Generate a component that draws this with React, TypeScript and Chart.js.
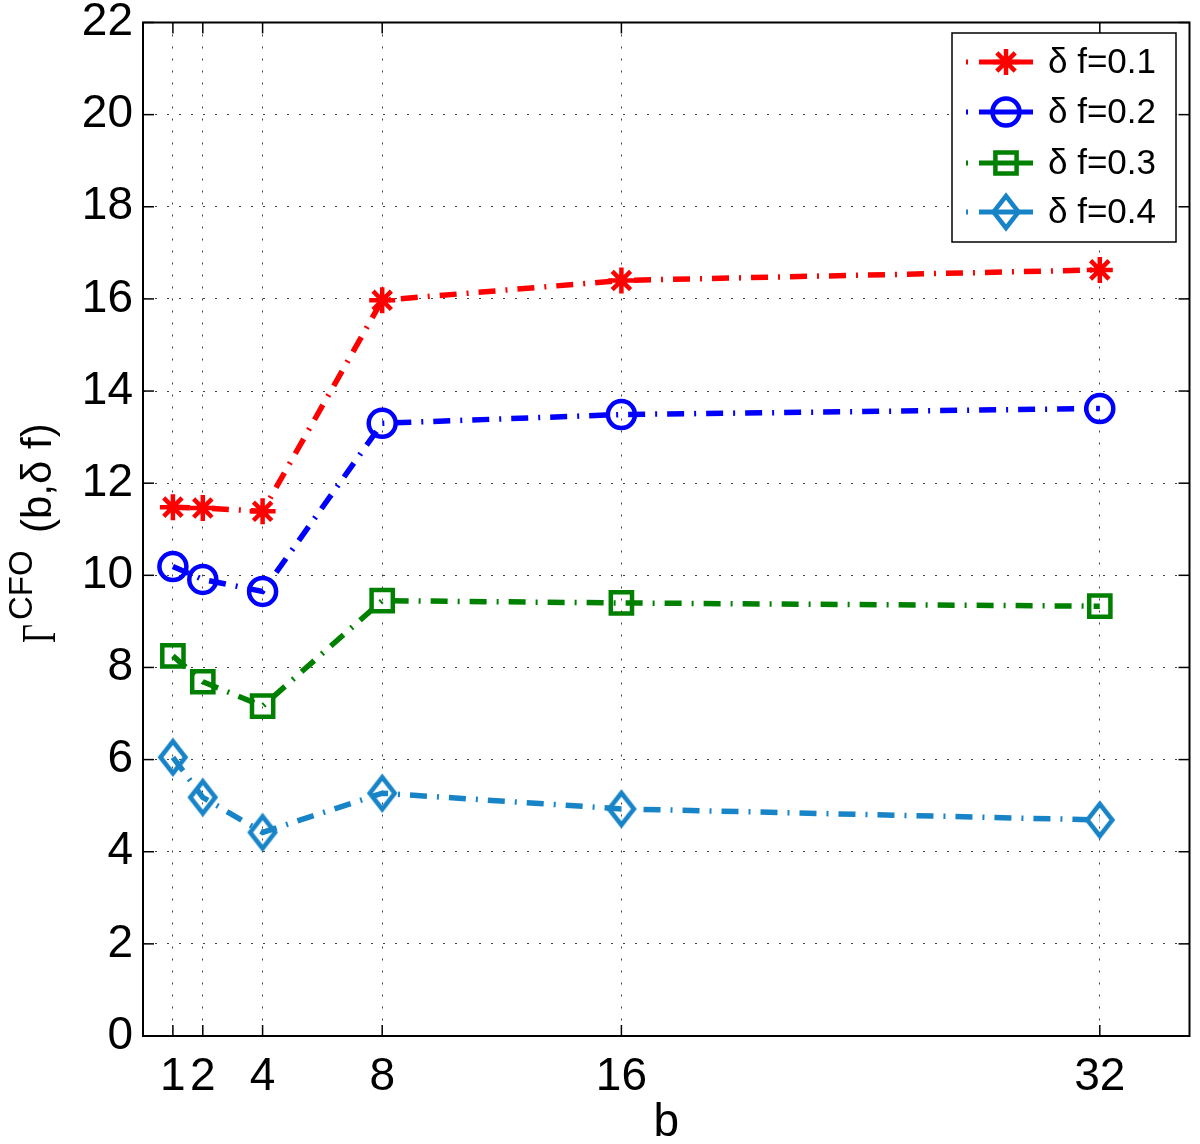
import React, { useEffect, useRef } from "react";
import { Chart, registerables } from "chart.js";

Chart.register(...registerables);

// ---- data ----
const bValues = [1, 2, 4, 8, 16, 32];
const df01 = [11.48, 11.46, 11.39, 15.97, 16.4, 16.63];
const df02 = [10.19, 9.91, 9.65, 13.3, 13.49, 13.62];
const df03 = [8.25, 7.69, 7.16, 9.45, 9.4, 9.33];
const df04 = [6.05, 5.18, 4.42, 5.27, 4.93, 4.69];
const seriesLabels = ["δ f=0.1", "δ f=0.2", "δ f=0.3", "δ f=0.4"];
const xTickValues = bValues;
const yMax = 22;
const yStep = 2;
const xMax = 35;

const FONT = '"Liberation Sans", Arial, Helvetica, sans-serif';
const SERIF = '"Liberation Serif", "Times New Roman", serif';
const COLORS = ["#ff0000", "#0000ff", "#008000", "#1884c8"];
const DASH = [17, 10, 2, 10];
const CANVAS_W = 1212;

function makeDiamond(color: string) {
  const c = document.createElement("canvas");
  c.width = 36;
  c.height = 48;
  const ctx = c.getContext("2d")!;
  ctx.strokeStyle = color;
  ctx.lineWidth = 4.5;
  ctx.beginPath();
  ctx.moveTo(18, 8);
  ctx.lineTo(30.5, 24);
  ctx.lineTo(18, 40);
  ctx.lineTo(5.5, 24);
  ctx.closePath();
  ctx.stroke();
  return c;
}

function drawMarker(ctx: CanvasRenderingContext2D, style: any, x: number, y: number, color: string) {
  ctx.save();
  ctx.strokeStyle = color;
  ctx.lineWidth = 4.5;
  ctx.setLineDash([]);
  ctx.beginPath();
  if (style === "star") {
    const r = 13;
    for (let k = 0; k < 4; k++) {
      const ang = (k * Math.PI) / 4;
      ctx.moveTo(x - r * Math.cos(ang), y - r * Math.sin(ang));
      ctx.lineTo(x + r * Math.cos(ang), y + r * Math.sin(ang));
    }
    ctx.stroke();
  } else if (style === "circle") {
    ctx.arc(x, y, 13.5, 0, Math.PI * 2);
    ctx.stroke();
  } else if (style === "rect") {
    const s = 10.6;
    ctx.rect(x - s, y - s, 2 * s, 2 * s);
    ctx.stroke();
  } else {
    ctx.drawImage(style, x - style.width / 2, y - style.height / 2);
  }
  ctx.restore();
}

const overlayPlugin = {
  id: "overlay",
  afterDraw(chart: any) {
    const { ctx, chartArea: a, scales } = chart;
    ctx.save();
    const line = (x1: number, y1: number, x2: number, y2: number) => {
      ctx.beginPath();
      ctx.moveTo(x1, y1);
      ctx.lineTo(x2, y2);
      ctx.stroke();
    };
    // inner ticks
    ctx.strokeStyle = "#000";
    ctx.lineWidth = 1.5;
    ctx.setLineDash([]);
    const tl = 11;
    scales.x.ticks.forEach((t: any) => {
      const px = scales.x.getPixelForValue(t.value);
      line(px, a.bottom, px, a.bottom - tl);
      line(px, a.top, px, a.top + tl);
    });
    scales.y.ticks.forEach((t: any) => {
      const py = scales.y.getPixelForValue(t.value);
      line(a.left, py, a.left + tl, py);
      line(a.right, py, a.right - tl, py);
    });
    // frame
    ctx.lineWidth = 2;
    ctx.strokeRect(a.left, a.top, a.right - a.left, a.bottom - a.top);

    // legend
    const lx = 952, ly = 33, lw = 224, lh = 209;
    ctx.fillStyle = "#fff";
    ctx.fillRect(lx, ly, lw, lh);
    ctx.lineWidth = 1.5;
    ctx.strokeStyle = "#000";
    ctx.strokeRect(lx, ly, lw, lh);
    const rows = [62, 112, 163, 212];
    chart.data.datasets.forEach((ds: any, i: number) => {
      const y = rows[i];
      ctx.strokeStyle = ds.borderColor;
      ctx.lineWidth = 5;
      ctx.lineCap = "butt";
      line(966, y, 968, y);
      line(979, y, 1033, y);
      drawMarker(ctx, ds.pointStyle, 1006, y, ds.borderColor);
      ctx.fillStyle = "#000";
      ctx.font = `35px ${FONT}`;
      ctx.textAlign = "left";
      ctx.textBaseline = "middle";
      ctx.fillText(ds.label, 1048, y + 1);
    });

    // y-axis title
    ctx.save();
    ctx.translate(55, 643);
    ctx.rotate(-Math.PI / 2);
    ctx.fillStyle = "#000";
    ctx.textAlign = "left";
    ctx.textBaseline = "alphabetic";
    ctx.save();
    ctx.scale(0.68, 1);
    ctx.font = `48px ${SERIF}`;
    ctx.fillText("Γ", 0, 0);
    ctx.restore();
    ctx.font = `33px ${FONT}`;
    ctx.fillText("CFO", 23, -23);
    ctx.font = `42px ${FONT}`;
    ctx.fillText("(b,δ f)", 110, -4);
    ctx.restore();

    // x-axis title
    ctx.fillStyle = "#000";
    ctx.font = `46px ${FONT}`;
    ctx.textAlign = "center";
    ctx.textBaseline = "alphabetic";
    ctx.fillText("b", (a.left + a.right) / 2, 1136);

    ctx.restore();
  },
};

function zeroPad(scale: any) {
  scale.paddingLeft = 0;
  scale.paddingRight = 0;
  scale.paddingTop = 0;
  scale.paddingBottom = 0;
}

export default function App() {
  const ref = useRef<HTMLCanvasElement | null>(null);
  useEffect(() => {
    document.body.style.margin = "0";
    document.body.style.overflow = "hidden";
    const canvas = ref.current!;
    const series = [df01, df02, df03, df04];
    const styles: any[] = ["star", "circle", "rect", makeDiamond(COLORS[3])];
    const radii = [13, 13.5, 15, 18];
    const chart = new Chart(canvas, {
      type: "line",
      data: {
        datasets: series.map((s, i) => ({
          label: seriesLabels[i],
          data: bValues.map((b, j) => ({ x: b, y: s[j] })),
          borderColor: COLORS[i],
          backgroundColor: "transparent",
          borderWidth: 5.5,
          borderDash: DASH,
          borderCapStyle: "butt",
          pointStyle: styles[i],
          pointRadius: radii[i],
          pointBorderWidth: 4.5,
          pointBorderColor: COLORS[i],
          pointBackgroundColor: "transparent",
          fill: false,
          tension: 0,
        })),
      },
      plugins: [overlayPlugin],
      options: {
        animation: false,
        responsive: false,
        maintainAspectRatio: false,
        layout: { padding: { top: 19, right: 0, left: 0, bottom: 0 } },
        plugins: { legend: { display: false }, tooltip: { enabled: false } },
        scales: {
          x: {
            type: "linear",
            min: 0,
            max: xMax,
            afterBuildTicks: (scale: any) => {
              scale.ticks = xTickValues.map((v) => ({ value: v }));
            },
            afterFit: (scale: any) => {
              scale.height = 108;
              zeroPad(scale);
            },
            grid: { color: "rgba(0,0,0,0.75)", lineWidth: 1, drawTicks: false },
            border: { display: false, dash: [2, 10] },
            ticks: {
              padding: 14,
              color: "#000",
              font: { size: 46, family: FONT },
              maxRotation: 0,
              autoSkip: false,
              callback: (v: any) => String(v),
            },
          },
          y: {
            type: "linear",
            min: 0,
            max: yMax,
            afterFit: (scale: any) => {
              scale.width = 143;
              zeroPad(scale);
            },
            grid: { color: "rgba(0,0,0,0.75)", lineWidth: 1, drawTicks: false },
            border: { display: false, dash: [2, 10] },
            ticks: {
              stepSize: yStep,
              padding: 10,
              color: "#000",
              font: { size: 46, family: FONT },
            },
          },
        },
      },
    } as any);
    return () => chart.destroy();
  }, []);
  return (
    <div style={{ position: "absolute", left: 0, top: 0, width: 1200, height: 1144, overflow: "hidden", background: "#fff" }}>
      <canvas ref={ref} width={CANVAS_W} height={1144} style={{ display: "block", width: CANVAS_W, height: 1144 }} />
    </div>
  );
}
